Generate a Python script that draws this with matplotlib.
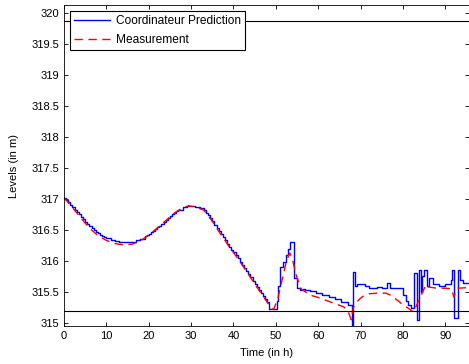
import numpy as np
import matplotlib.pyplot as plt

# predicted level (stair-step output of the coordinator)
pred_t = [0, 0.5, 1, 1.5, 2, 2.5, 3, 3.5, 4, 4.5, 5, 5.5, 6, 6.5, 7, 7.5, 8, 8.5,
          9, 9.5, 10, 11, 12, 13, 14, 15, 16, 17, 18, 19, 19.5, 20, 20.5, 21,
          21.5, 22, 22.5, 23, 23.5, 24, 24.5, 25, 25.5, 26, 26.5, 27, 28, 29, 30,
          31, 32, 33, 33.5, 34, 34.5, 35, 35.5, 36, 36.5, 37, 37.5, 38, 38.5, 39,
          39.5, 40, 40.5, 41, 41.5, 42, 42.5, 43, 43.5, 44, 44.5, 45, 45.5, 46,
          46.5, 47, 47.5, 48, 48.5, 50.2, 50.6, 51, 51.7,
          52.3, 52.8, 53.3, 54.2, 55, 55.7, 56.5, 57, 58, 59.5, 61, 62.5, 64,
          65.5, 67, 67.9, 68.2, 68.8, 69.2, 71, 72, 74, 75, 76.3, 77, 79.5, 80,
          80.7, 81.2, 82, 82.7, 83.3, 83.8, 84.3, 84.6, 85, 85.6, 86.2, 87, 88.5,
          90, 91.3, 91.6, 92.1, 92.9, 93.4, 94.2, 95.5]
pred_v = [317.02, 316.99, 316.95, 316.91, 316.87, 316.83, 316.79, 316.75, 316.71,
          316.67, 316.63, 316.60, 316.56, 316.53, 316.50, 316.47, 316.45, 316.42,
          316.40, 316.38, 316.37, 316.34, 316.32, 316.31, 316.30, 316.30, 316.31,
          316.33, 316.36, 316.40, 316.42, 316.44, 316.46, 316.49, 316.51, 316.54,
          316.57, 316.60, 316.63, 316.66, 316.69, 316.72, 316.75, 316.78, 316.80,
          316.83, 316.87, 316.89, 316.89, 316.87, 316.85, 316.83, 316.78, 316.74,
          316.69, 316.64, 316.58, 316.53, 316.48, 316.43, 316.38, 316.33, 316.28,
          316.23, 316.18, 316.14, 316.09, 316.04, 315.99, 315.94, 315.89, 315.84,
          315.79, 315.74, 315.68, 315.63, 315.58, 315.53, 315.48, 315.43, 315.38,
          315.33, 315.22, 315.35, 315.6, 315.9, 315.98,
          316.1, 316.2, 316.31, 315.73, 315.56, 315.53, 315.55, 315.53, 315.52,
          315.48, 315.45, 315.42, 315.38, 315.34, 315.29, 314.9, 315.82, 315.6,
          315.62, 315.6, 315.57, 315.58, 315.57, 315.65, 315.57, 315.56, 315.45,
          315.35, 315.29, 315.24, 315.8, 315.05, 315.85, 315.5, 315.75, 315.85,
          315.6, 315.72, 315.62, 315.6, 315.62, 315.69, 315.85, 315.08, 315.85,
          315.7, 315.65, 315.65]

# measured level
meas_t = [0, 2, 4, 6, 8, 10, 12, 14, 16, 18, 20, 22, 24, 26, 28, 29.5, 31, 33,
          35, 37, 39, 41, 43, 45, 47, 49, 49.5, 50.5, 51.5, 52.5, 53.3, 54, 54.9,
          56, 58, 60, 62, 64, 66, 67, 67.8, 68.3, 69, 70, 71, 72, 74, 76, 77, 78,
          79, 80, 81, 82, 82.5, 83, 84, 85, 85.5, 86, 88, 90, 91.5, 92, 92.5, 93,
          95.5]
meas_v = [317.02, 316.86, 316.69, 316.53, 316.41, 316.33, 316.28, 316.26, 316.27,
          316.32, 316.42, 316.53, 316.65, 316.77, 316.86, 316.89, 316.87, 316.82,
          316.64, 316.43, 316.23, 316.04, 315.84, 315.63, 315.43, 315.23, 315.22,
          315.4, 315.7, 316.0, 316.13, 316.0, 315.75, 315.55, 315.45, 315.41,
          315.36, 315.31, 315.26, 315.2, 315.05, 315.25, 315.33, 315.4, 315.45,
          315.47, 315.48, 315.48, 315.45, 315.4, 315.35, 315.29, 315.25, 315.2,
          315.18, 315.25, 315.4, 315.55, 315.62, 315.58, 315.56, 315.56, 315.55,
          315.42, 315.5, 315.56, 315.57]

# limits drawn as horizontal lines
level_max = 319.87
level_min = 315.19

plt.rcParams['font.family'] = ['Liberation Sans', 'DejaVu Sans']
plt.rcParams['font.size'] = 8

fig = plt.figure(figsize=(4.69, 3.64), dpi=100)
ax = fig.add_axes([0.1365, 0.1044, 0.8635, 0.8818])

ax.plot(pred_t, pred_v, color='blue', linewidth=1, drawstyle='steps-post',
        label='Coordinateur Prediction')
ax.plot(meas_t, meas_v, color='red', linewidth=1, dashes=(6, 4),
        label='Measurement')
ax.axhline(level_max, color='black', linewidth=0.8)
ax.axhline(level_min, color='black', linewidth=0.8)

ax.set_xlim(0, 95.6)
ax.set_ylim(314.95, 320.13)
ax.set_xticks(np.arange(0, 91, 10))
ax.set_yticks(np.arange(315, 320.1, 0.5))
ax.set_yticklabels(['315', '315.5', '316', '316.5', '317', '317.5',
                    '318', '318.5', '319', '319.5', '320'])
ax.tick_params(direction='in', top=True, right=True, length=3, width=0.6,
               colors='black', labelsize=8)
for s in ax.spines.values():
    s.set_linewidth(0.6)

ax.set_xlabel('Time (in h)', fontsize=8, labelpad=5)
ax.set_ylabel('Levels (in m)', fontsize=8, labelpad=9)

leg = ax.legend(loc='upper left', fontsize=8.6, fancybox=False, framealpha=1,
                edgecolor='black', borderaxespad=0.5, handlelength=3.0,
                handletextpad=0.5, borderpad=0.35, labelspacing=0.55)
leg.get_frame().set_linewidth(0.8)

fig.savefig('out.png', dpi=100)
